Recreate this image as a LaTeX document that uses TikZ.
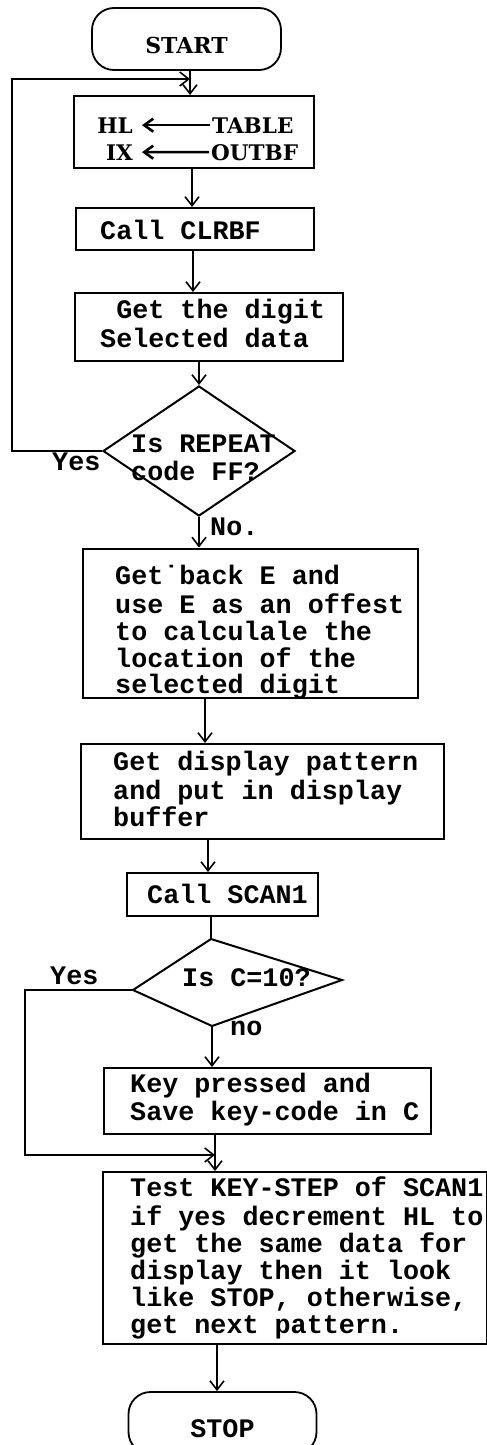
\documentclass[tikz,border=0pt]{standalone}
\usepackage{fontspec}
\usetikzlibrary{arrows.meta,shapes.geometric}
\newfontfamily\monoF{Liberation Mono}
\newfontfamily\serifF{DejaVu Serif}
\newcommand\twf[1][27]{\monoF\bfseries\fontsize{26.75pt}{#1pt}\selectfont}
\newcommand\bsf[1]{\serifF\bfseries\fontsize{#1pt}{#1pt}\selectfont}
\begin{document}
\begin{tikzpicture}[x=1pt,y=-1pt,
  box/.style={draw, line width=2pt, rectangle, anchor=north west, inner sep=0pt},
  txt/.style={anchor=north west, inner sep=0pt, align=left, font=\twf},
  lbl/.style={anchor=base west, inner sep=0pt, font=\twf},
  regl/.style={inner sep=0pt, font={\bsf{21.5}}},
  term/.style={draw, line width=1.8pt, rounded corners=22pt, minimum height=62pt,
    text height=29pt, text depth=0pt, inner sep=0pt},
  dec/.style={draw, diamond, line width=2pt, inner sep=0pt},
  decline/.style={draw, line width=2pt, line join=miter},
  conn/.style={line width=1.6pt},
  arr/.style={conn, -{Straight Barb[length=9pt,width=14pt]}},
  regarr/.style={line width=2.6pt, {Straight Barb[length=9pt,width=13pt]}-, shorten >=2pt, shorten <=9pt},
]
\useasboundingbox (0,0) rectangle (487,1445);
\clip (0,0) rectangle (487,1445);

% terminators
\node[term, minimum width=189pt, font={\bsf{22}}] (start) at (186.5,39) {START};
\node[term, minimum width=188pt, font=\twf] (stop) at (222.5,1423) {STOP};

% boxes
\node[box, minimum width=240pt, minimum height=72pt]  (b1) at (73,95) {};
\node[box, minimum width=238pt, minimum height=42pt]  (b2) at (75,207) {};
\node[box, minimum width=268pt, minimum height=68pt]  (b3) at (74,292) {};
\node[box, minimum width=335pt, minimum height=149pt] (b4) at (81.5,547.5) {};
\node[box, minimum width=363pt, minimum height=95pt]  (b5) at (80,743) {};
\node[box, minimum width=191pt, minimum height=43pt]  (b6) at (126,872) {};
\node[box, minimum width=327pt, minimum height=66pt]  (b7) at (103,1067) {};
\node[box, minimum width=384pt, minimum height=172pt] (b8) at (101.5,1171) {};

% decision 1 (diamond node)
\node[dec, minimum width=192pt, minimum height=130pt] (d1) at (199,451) {};
% decision 2 (irregular diamond, drawn from its corners)
\coordinate (d2n) at (211,939);
\coordinate (d2e) at (342,980);
\coordinate (d2s) at (212,1026);
\coordinate (d2w) at (133,990);
\draw[decline] (d2n) -- (d2e) -- (d2s) -- (d2w) -- cycle;

% box 1 contents
\node[regl, anchor=base east] (hl) at (133,133) {HL};
\node[regl, anchor=base east] (ix) at (133,160) {IX};
\node[regl, anchor=base west] (tab) at (212,133) {TABLE};
\node[regl, anchor=base west] (outbf) at (211,160) {OUTBF};
\draw[regarr] (hl.east) -- (tab.west);
\draw[regarr] (ix.east) -- (outbf.west);

% texts
\node[txt] (b2t) at (100,220.1) {\strut Call CLRBF};
\node[txt] (b3t) at (100,299.1) {\strut\hphantom{G}Get the digit\\Selected data};
\node[txt, font={\twf[26.7]}] (b4t) at (115,565.3) {\strut Get˙back E and\\use E as an offest\\to calculale the\\location of the\\selected digit};
\node[txt] (b5t) at (113,751.1) {\strut Get display pattern\\and put in display\\buffer};
\node[txt] (b6t) at (147,884.1) {\strut Call SCAN1};
\node[txt] (b7t) at (130,1072.6) {\strut Key pressed and\\Save key-code in C};
\node[txt] (b8t) at (130,1176.6) {\strut Test KEY-STEP of SCAN1\\if yes decrement HL to\\get the same data for\\display then it look\\like STOP, otherwise,\\get next pattern.};
\node[txt, font={\twf[25]}] (d1t) at (131,434.5) {\strut Is REPEAT\\code FF?};
\node[lbl] (d2t) at (182,986) {Is C=10?};

% branch labels
\node[lbl] (y1) at (52,470) {Yes};
\node[lbl] (n1) at (210,535) {No.};
\node[lbl] (y2) at (50,984) {Yes};
\node[lbl] (n2) at (230,1035) {no};

% connector x positions
\coordinate (J1) at (190,79);
\coordinate (L1) at (12,79);
\coordinate (x1) at (192,0);
\coordinate (x2) at (193,0);
\coordinate (x5) at (205,0);
\coordinate (x6) at (208,0);
\coordinate (J2) at (215,1155);
\coordinate (L2) at (25,1155);
\coordinate (x10) at (217,0);

% connectors
\draw[arr] (J1 |- start.south) -- (J1 |- b1.north);
\draw[arr] (b1.south -| x1) -- (b2.north -| x1);
\draw[arr] (b2.south -| x2) -- (b3.north -| x2);
\draw[arr] (b3.south -| d1.north) -- (d1.north);
\draw[arr] (d1.south) -- (b4.north -| d1.south);
\draw[arr] (d1.west) -| (L1) -- (J1);
\draw[arr] (b4.south -| x5) -- (b5.north -| x5);
\draw[arr] (b5.south -| x6) -- (b6.north -| x6);
\draw[conn] (b6.south -| d2n) -- (d2n);
\draw[arr] (d2s) -- (b7.north -| d2s);
\draw[arr] (d2w) -| (L2) -- (J2);
\draw[arr] (b7.south -| J2) -- (b8.north -| J2);
\draw[arr] (b8.south -| x10) -- (stop.north -| x10);
\end{tikzpicture}
\end{document}
